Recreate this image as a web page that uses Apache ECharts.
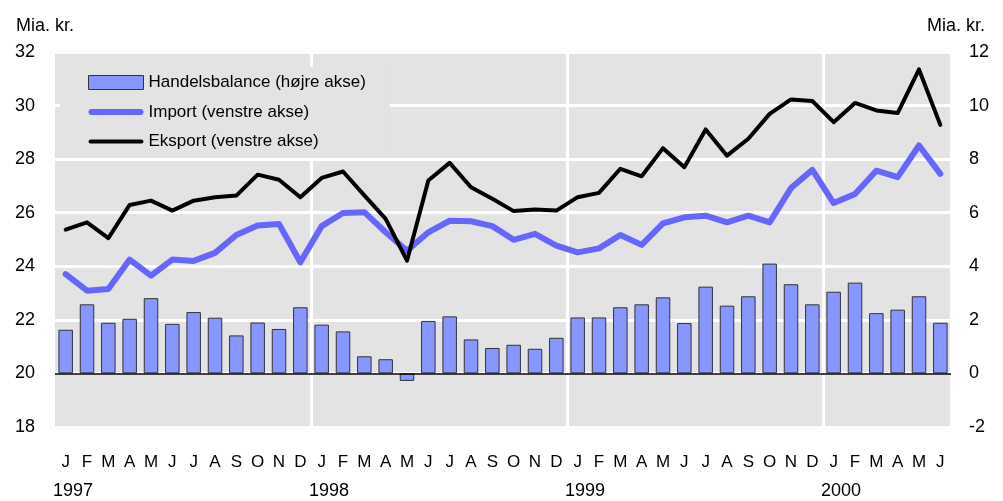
<!DOCTYPE html>
<html>
<head>
<meta charset="utf-8">
<script src="https://cdn.jsdelivr.net/npm/echarts@6/dist/echarts.min.js"></script>
<style>
html,body{margin:0;padding:0;background:#fff;}
#c{width:1003px;height:501px;}
</style>
</head>
<body>
<div id="c"></div>
<script>
const months = ['J','F','M','A','M','J','J','A','S','O','N','D',
  'J','F','M','A','M','J','J','A','S','O','N','D',
  'J','F','M','A','M','J','J','A','S','O','N','D',
  'J','F','M','A','M','J'];
const yearLabels = ['1997','1998','1999','2000'];
const handelsbalance = [1.63,2.58,1.89,2.04,2.81,1.85,2.29,2.08,1.42,1.90,1.66,2.47,
  1.82,1.57,0.64,0.53,-0.28,1.96,2.13,1.27,0.95,1.07,0.92,1.33,
  2.09,2.09,2.47,2.58,2.84,1.88,3.24,2.53,2.88,4.10,3.33,2.58,
  3.05,3.39,2.25,2.38,2.88,1.89];
const importV = [23.71,23.09,23.15,24.25,23.65,24.25,24.20,24.50,25.17,25.52,25.58,24.15,
  25.50,25.99,26.02,25.27,24.58,25.27,25.70,25.68,25.50,24.99,25.21,24.77,
  24.52,24.67,25.17,24.80,25.60,25.83,25.89,25.64,25.89,25.64,26.92,27.60,
  26.36,26.70,27.57,27.33,28.51,27.45];
const eksport = [25.37,25.64,25.05,26.29,26.45,26.08,26.45,26.58,26.64,27.42,27.23,26.58,
  27.30,27.54,26.65,25.77,24.21,27.20,27.86,26.95,26.52,26.06,26.12,26.08,
  26.58,26.74,27.64,27.36,28.41,27.70,29.11,28.13,28.76,29.69,30.23,30.17,
  29.38,30.10,29.82,29.72,31.35,29.28];
const seriesNames = ['Handelsbalance (højre akse)','Import (venstre akse)','Eksport (venstre akse)'];
const unitLabel = 'Mia. kr.';

const yearAxisData = [];
for (let i = 0; i <= months.length; i++) {
  yearAxisData.push(i % 12 === 0 && yearLabels[i/12] ? yearLabels[i/12] : '');
}

const FONT = 'Liberation Sans, Arial, sans-serif';
const chart = echarts.init(document.getElementById('c'), null, {renderer:'canvas'});
chart.setOption({
  animation: false,
  backgroundColor: '#ffffff',
  textStyle: {fontFamily: FONT},
  title: [
    {text: unitLabel, left: 16, top: 17, padding: 0, textStyle:{fontFamily:FONT,fontSize:18,fontWeight:'normal',color:'#000'}},
    {text: unitLabel, right: 18, top: 17, padding: 0, textStyle:{fontFamily:FONT,fontSize:18,fontWeight:'normal',color:'#000'}}
  ],
  grid: {left: 55, right: 52, top: 52, bottom: 74, show: true, backgroundColor: '#e3e3e3', borderWidth: 0, containLabel: false},
  legend: {
    orient: 'vertical', left: 60, top: 67,
    padding: [7, 24, 8, 28],
    backgroundColor: '#e3e3e3',
    itemWidth: 55, itemHeight: 14, itemGap: 12.5,
    symbolKeepAspect: true,
    textStyle: {fontFamily: FONT, fontSize: 17, color: '#000', lineHeight: 16},
    data: [
      {name: seriesNames[0], icon: 'rect', itemStyle:{color:'#8896ff', borderColor:'#333', borderWidth:1}},
      {name: seriesNames[1], icon: 'path://M3,0L52,0A3,3 0 0 1 52,6L3,6A3,3 0 0 1 3,0Z', itemStyle:{color:'#6666ff', borderWidth:0}},
      {name: seriesNames[2], icon: 'path://M2,0L53,0A2,2 0 0 1 53,4L2,4A2,2 0 0 1 2,0Z', itemStyle:{color:'#000', borderWidth:0}}
    ]
  },
  xAxis: [
    {
      type: 'category', data: months, boundaryGap: true, position: 'bottom',
      axisLine: {show: false}, axisTick: {show: false},
      axisLabel: {interval: 0, margin: 27, fontSize: 17, color: '#000', fontFamily: FONT},
      splitLine: {show: true, interval: function(i){ return i % 12 === 0 && i > 0; }, lineStyle: {color: '#ffffff', width: 3}}
    },
    {
      type: 'category', data: yearAxisData, boundaryGap: false, position: 'bottom',
      axisLine: {show: false}, axisTick: {show: false}, splitLine: {show: false},
      axisLabel: {interval: 0, margin: 55, align: 'left', fontSize: 18, color: '#000', fontFamily: FONT, padding:[0,0,0,-2]}
    }
  ],
  yAxis: [
    {
      type: 'value', min: 18, max: 32, interval: 2, position: 'left',
      axisLine: {show: false}, axisTick: {show: false},
      axisLabel: {margin: 20, fontSize: 18, color: '#000', fontFamily: FONT},
      splitLine: {show: true, lineStyle: {color: '#ffffff', width: 3}}
    },
    {
      type: 'value', min: -2, max: 12, interval: 2, position: 'right',
      axisLine: {show: false}, axisTick: {show: false},
      axisLabel: {margin: 18, fontSize: 18, color: '#000', fontFamily: FONT},
      splitLine: {show: false}
    }
  ],
  series: [
    {
      name: seriesNames[0], type: 'bar', xAxisIndex: 0, yAxisIndex: 1, data: handelsbalance,
      barWidth: 14.5,
      itemStyle: {color: '#8896ff', borderColor: '#333', borderWidth: 1},
      markLine: {silent: true, symbol: 'none', label: {show: false},
        lineStyle: {color: '#000', width: 1.5, type: 'solid'},
        data: [{yAxis: 0}]}
    },
    {
      name: seriesNames[1], type: 'line', xAxisIndex: 0, yAxisIndex: 0, data: importV,
      symbol: 'none', lineStyle: {color: '#6666ff', width: 6, cap: 'round', join: 'round'},
      itemStyle: {color: '#6666ff'}
    },
    {
      name: seriesNames[2], type: 'line', xAxisIndex: 0, yAxisIndex: 0, data: eksport,
      symbol: 'none', lineStyle: {color: '#000', width: 4, cap: 'round', join: 'round'},
      itemStyle: {color: '#000'}
    }
  ]
});
</script>
</body>
</html>
